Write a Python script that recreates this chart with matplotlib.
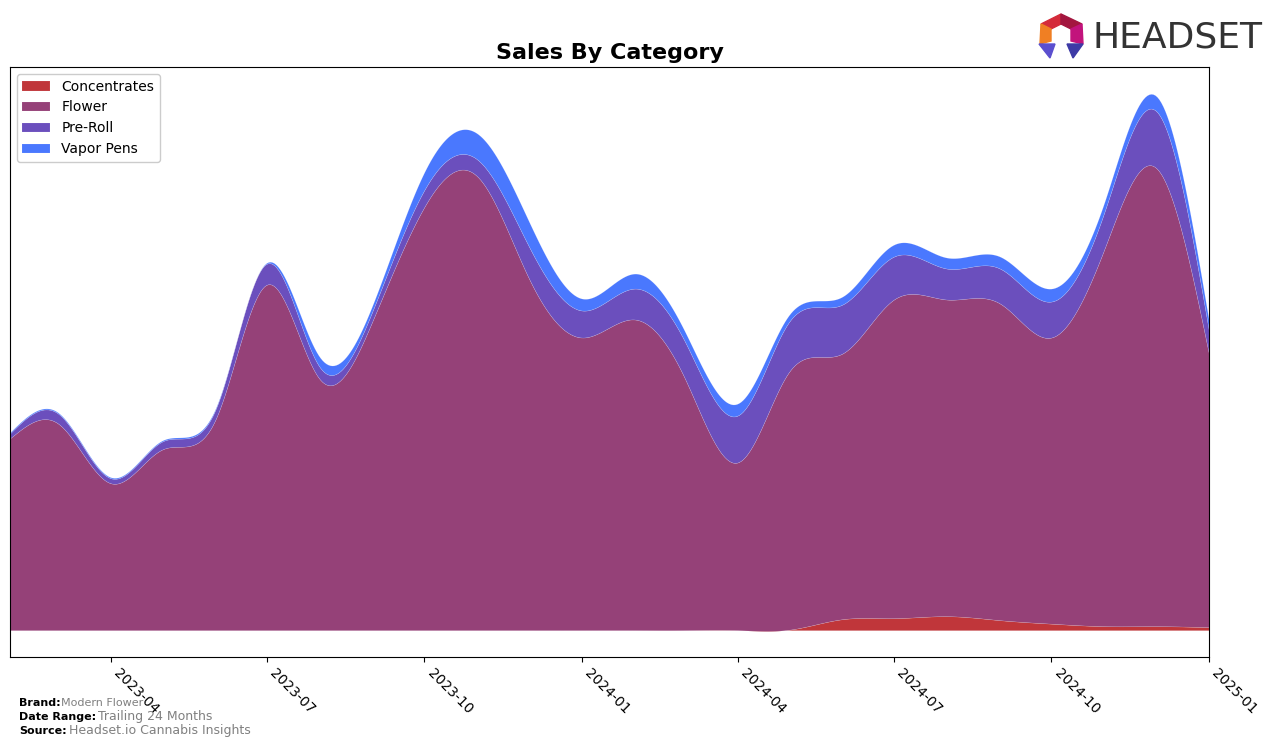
import numpy as np
import pandas as pd
import matplotlib
matplotlib.use("Agg")
import matplotlib.pyplot as plt
import matplotlib.dates as mdates
from matplotlib.patches import Polygon

# monthly sales (thousands)
months = pd.date_range("2023-02-01", periods=24, freq="MS")
concentrates = [0, 0, 0, 0, 0, 0, 0, 0, 0, 0, 0, 0,
                0, 0, 0, 0.5, 11, 12, 14, 10, 6.5, 4, 4, 3]
flower = [192, 207, 147, 181, 211, 346, 251, 311, 424, 454, 352, 293,
          311, 252, 168, 258.5, 266, 319, 317, 317, 286.5, 378, 459, 273]
pre_roll = [5, 10, 5, 8, 10, 21, 12, 10, 17, 17, 32, 27,
            31, 37, 47, 50, 49, 43, 31, 35, 36, 37, 57, 23]
vapor_pens = [1, 1, 1, 1, 1, 1, 10, 6, 18, 26, 25, 12,
              15, 10, 12, 7, 8, 12, 11, 12, 13, 10, 15, 10]

labels = ["Concentrates", "Flower", "Pre-Roll", "Vapor Pens"]
colors = ["#c0363a", "#954178", "#6b4fbd", "#4a78fe"]


def smooth(x, y, xs):
    # natural cubic spline, only used to draw the curves smoothly
    x = np.asarray(x, float); y = np.asarray(y, float)
    n = len(x); h = np.diff(x)
    A = np.zeros((n, n)); r = np.zeros(n)
    A[0, 0] = A[-1, -1] = 1
    for i in range(1, n - 1):
        A[i, i - 1] = h[i - 1]; A[i, i] = 2 * (h[i - 1] + h[i]); A[i, i + 1] = h[i]
        r[i] = 3 * ((y[i + 1] - y[i]) / h[i] - (y[i] - y[i - 1]) / h[i - 1])
    c = np.linalg.solve(A, r)
    b = (y[1:] - y[:-1]) / h - h * (c[1:] + 2 * c[:-1]) / 3
    d = (c[1:] - c[:-1]) / (3 * h)
    idx = np.clip(np.searchsorted(x, xs) - 1, 0, n - 2)
    t = xs - x[idx]
    return y[idx] + b[idx] * t + c[idx] * t ** 2 + d[idx] * t ** 3


xnum = mdates.date2num(months)
xs = np.linspace(xnum[0], xnum[-1], 600)
layers = [smooth(xnum, s, xs) for s in (concentrates, flower, pre_roll, vapor_pens)]

fig = plt.figure(figsize=(12.76, 7.47), dpi=100)
ax = fig.add_axes([0.0078, 0.1205, 0.9397, 0.7898])

ax.stackplot(xs, *layers, labels=labels, colors=colors, linewidth=0.3,
             edgecolor="#ffffff40")

total = np.sum(layers, axis=0)
ymax = total.max()
ax.set_ylim(-0.05 * ymax, 1.05 * ymax)
ax.set_xlim(xnum[0], xnum[-1])
ax.set_yticks([])
ax.xaxis.set_major_locator(mdates.MonthLocator(bymonth=[1, 4, 7, 10]))
ax.xaxis.set_major_formatter(mdates.DateFormatter("%Y-%m"))
plt.setp(ax.get_xticklabels(), rotation=-45, ha="left", fontsize=10)

ax.set_title("Sales By Category", fontsize=16, fontweight="bold", pad=6)
ax.legend(loc="upper left", fontsize=10, framealpha=1)

# footer
fig.text(0.015, 0.055, "Brand:", fontsize=8, fontweight="bold")
fig.text(0.048, 0.055, "Modern Flower", fontsize=8, color="gray")
fig.text(0.015, 0.036, "Date Range:", fontsize=8, fontweight="bold")
fig.text(0.077, 0.036, "Trailing 24 Months", fontsize=9, color="gray")
fig.text(0.015, 0.017, "Source:", fontsize=8, fontweight="bold")
fig.text(0.054, 0.017, "Headset.io Cannabis Insights", fontsize=9, color="gray")

# logo, drawn on an overlay in pixel units
lax = fig.add_axes([0, 0, 1, 1], facecolor="none")
lax.set_xlim(0, 1276); lax.set_ylim(747, 0); lax.axis("off")
lax.text(1092, 37, "HEADSET", fontsize=26, color="#333333", va="center", ha="left")
T, UL, LL, LR, UR = (1061, 14), (1041, 24), (1040, 44), (1083, 44), (1082, 24)
t, ul, ll, lr, ur = (1061, 24), (1051, 29), (1051, 41), (1071, 41), (1071, 29)
for quad, c in [([T, UL, ul, t], "#d42b3a"), ([T, UR, ur, t], "#a3163f"),
                ([UL, LL, ll, ul], "#f07f23"), ([UR, LR, lr, ur], "#c2137c"),
                ([(1039, 44), (1055, 44), (1050, 58)], "#5b4fcf"),
                ([(1067, 44), (1083, 44), (1073, 58)], "#3d3aa6")]:
    lax.add_patch(Polygon(quad, closed=True, color=c))

fig.savefig("out.png", dpi=100)
